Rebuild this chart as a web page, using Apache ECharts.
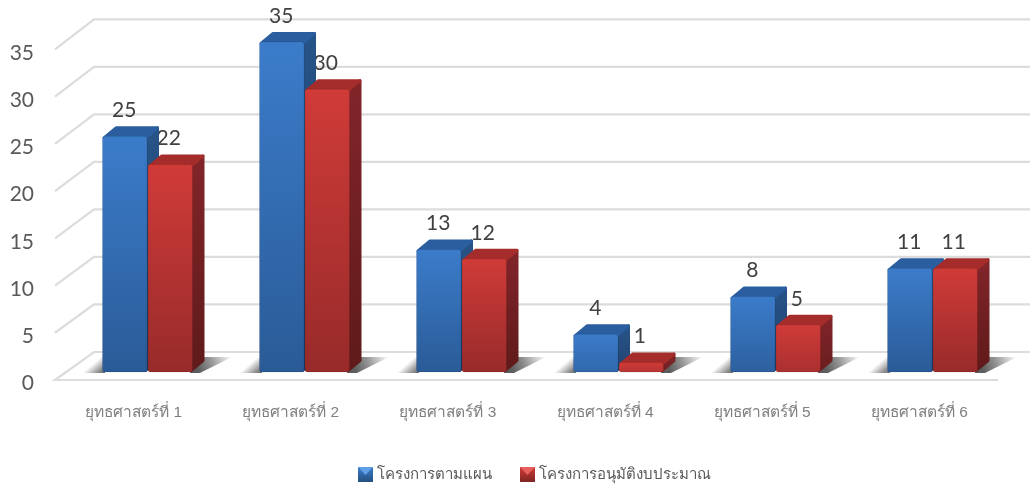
<!DOCTYPE html>
<html>
<head>
<meta charset="utf-8">
<style>
  html, body { margin: 0; padding: 0; background: #fff; }
  #main { width: 1030px; height: 488px; }
</style>
<script src="https://cdn.jsdelivr.net/npm/echarts@6/dist/echarts.min.js"></script>
</head>
<body>
<div id="main"></div>
<script>
var categories = ['ยุทธศาสตร์ที่ 1', 'ยุทธศาสตร์ที่ 2', 'ยุทธศาสตร์ที่ 3', 'ยุทธศาสตร์ที่ 4', 'ยุทธศาสตร์ที่ 5', 'ยุทธศาสตร์ที่ 6'];
var planned = [25, 35, 13, 4, 8, 11];
var approved = [22, 30, 12, 1, 5, 11];
var yTicks = [0, 5, 10, 15, 20, 25, 30, 35];
var seriesNames = ['โครงการตามแผน', 'โครงการอนุมัติงบประมาณ'];

var thaiFont = '"Liberation Sans", "DejaVu Sans", "Noto Sans", sans-serif';
var numFont = 'Lato, "Open Sans", sans-serif';

var myChart = echarts.init(document.getElementById('main'), null, { renderer: 'canvas' });

// depth of the 3d look, in pixels
var depthX = 12;
var depthY = 10;
var barRatio = 44.5 / 157;

var blue = { top: '#2b5e9f', front: ['#3b7cca', '#2a5b97'], side: ['#275488', '#1c3b64'] };
var red = { top: '#a42c2a', front: ['#d03b38', '#972b2a'], side: ['#82252a', '#5f1a19'] };

function mix(a, b, t) {
  var out = '#';
  for (var i = 1; i < 7; i += 2) {
    var x = parseInt(a.substr(i, 2), 16);
    var y = parseInt(b.substr(i, 2), 16);
    var c = Math.round(x + (y - x) * t).toString(16);
    out += c.length < 2 ? '0' + c : c;
  }
  return out;
}

function vertical(c0, c1) {
  return new echarts.graphic.LinearGradient(0, 0, 0, 1, [
    { offset: 0, color: c0 },
    { offset: 1, color: c1 }
  ]);
}

function barRenderer(colors, shift) {
  return function (params, api) {
    var val = api.value(1);
    var band = api.size([1, 0])[0];
    var w = band * barRatio;
    var topPt = api.coord([api.value(0), val]);
    var basePt = api.coord([api.value(0), 0]);
    var x0 = topPt[0] + shift * w + (shift < 0 ? -0.5 : 0.5);
    var x1 = x0 + w;
    var y0 = topPt[1];
    var y1 = basePt[1];
    // short bars do not reach the dark end of the gradient
    var f = Math.min(1, 0.4 + val / 18);
    // polygons sit 1.5px inside and get a 3px round stroke, that rounds the corners
    var r = 1.5;
    return {
      type: 'group',
      children: [
        {
          type: 'polygon',
          shape: { points: [[x1 - r, y0 + r], [x1 + depthX - r, y0 - depthY + r], [x1 + depthX - r, y1 - depthY - r], [x1 - r, y1 - r]] },
          style: { fill: vertical(colors.side[0], mix(colors.side[0], colors.side[1], f)), stroke: vertical(colors.side[0], mix(colors.side[0], colors.side[1], f)), lineWidth: 2 * r, lineJoin: 'round' }
        },
        {
          type: 'polygon',
          shape: { points: [[x0 + r, y0 + r], [x1 - r, y0 + r], [x1 + depthX - r, y0 - depthY + r], [x0 + depthX + r, y0 - depthY + r]] },
          style: { fill: colors.top, stroke: colors.top, lineWidth: 2 * r, lineJoin: 'round' }
        },
        {
          type: 'rect',
          shape: { x: x0, y: y0, width: w, height: y1 - y0, r: 2.5 },
          style: { fill: vertical(colors.front[0], mix(colors.front[0], colors.front[1], f)), stroke: 'rgba(0,0,0,0.10)', lineWidth: 1 }
        }
      ]
    };
  };
}

// floor shadow, one soft wedge each side of the pair of bars
function shadowRenderer(params, api) {
  var band = api.size([1, 0])[0];
  var w = band * barRatio;
  var c = api.coord([api.value(0), 0]);
  var left = c[0] - w;
  var right = c[0] + w;
  var y = c[1] + 1;
  var stops = [
    { offset: 0, color: 'rgba(75,75,75,0)' },
    { offset: 0.6, color: 'rgba(75,75,75,0.6)' },
    { offset: 1, color: 'rgba(75,75,75,0.9)' }
  ];
  return {
    type: 'group',
    children: [
      {
        type: 'polygon',
        shape: { points: [[left - 21, y], [left + 2, y], [left + 2, y - 16], [left - 2, y - 16]] },
        style: { fill: new echarts.graphic.LinearGradient(left - 11.5, y - 8, left - 1, y + 4, stops, true) }
      },
      {
        type: 'polygon',
        shape: { points: [[right - 2, y], [right + 8, y], [right + 40, y - 16], [right - 2, y - 16]] },
        style: { fill: new echarts.graphic.LinearGradient(right + 40, y - 16, right + 6, y - 3, stops, true) }
      }
    ]
  };
}

function labelRenderer(shift) {
  return function (params, api) {
    var w = api.size([1, 0])[0] * barRatio;
    var p = api.coord([api.value(0), api.value(1)]);
    return {
      type: 'text',
      style: {
        x: p[0] + shift * w - 1,
        y: p[1] - 26,
        text: String(api.value(1)),
        fill: '#404040',
        font: '21px ' + numFont,
        textAlign: 'center',
        textVerticalAlign: 'middle'
      }
    };
  };
}

// gridlines: front edge, then a slant up to the back wall and along it
function wallRenderer(params, api) {
  var v = api.value(1);
  var cs = params.coordSys;
  var y = api.coord([0, v])[1];
  var rise = 28 + 2 * v / 35;
  var pts = [[cs.x, y], [cs.x + 39, y - rise], [cs.x + cs.width + 39, y - rise]];
  if (v === 0) {
    pts = [[cs.x + cs.width, y], [cs.x, y]].concat(pts.slice(1));
  }
  return {
    type: 'polyline',
    shape: { points: pts },
    style: { fill: null, stroke: '#dcdcdc', lineWidth: 2.2 }
  };
}

function pairs(arr) {
  return arr.map(function (v, i) { return [i, v]; });
}

var option = {
  animation: false,
  backgroundColor: '#fff',
  grid: [
    { left: 55, width: 943, top: 49.3, height: 330.7 },
    { left: 69, width: 942, top: 42, height: 330 }
  ],
  xAxis: [
    {
      type: 'category', gridIndex: 0, data: categories,
      axisLine: { show: false }, axisTick: { show: false },
      axisLabel: { margin: 25, fontSize: 15.5, color: '#7f7f7f', fontFamily: thaiFont }
    },
    { type: 'category', gridIndex: 1, data: categories, show: false }
  ],
  yAxis: [
    {
      type: 'value', gridIndex: 0, min: 0, max: 35, interval: 5,
      axisLine: { show: false }, axisTick: { show: false }, splitLine: { show: false },
      // top aligned with a small line box puts the digits a little under the gridline end
      axisLabel: { margin: 21, fontSize: 21, color: '#595959', fontFamily: numFont, verticalAlign: 'top', lineHeight: 7 }
    },
    { type: 'value', gridIndex: 1, min: 0, max: 35, interval: 5, show: false, splitLine: { show: false } }
  ],
  legend: {
    left: 353, top: 462, itemWidth: 15, itemHeight: 15, itemGap: 28,
    icon: 'rect',
    data: seriesNames,
    textStyle: { fontSize: 15, color: '#595959', fontFamily: thaiFont, padding: [0, 0, 0, -1] }
  },
  // lighter bevel on the legend keys
  graphic: [
    { type: 'polygon', z: 100, silent: true, shape: { points: [[358, 467], [373, 467], [365.5, 475]] }, style: { fill: '#5f9fe4' } },
    { type: 'polygon', z: 100, silent: true, shape: { points: [[520, 467], [535, 467], [527.5, 475]] }, style: { fill: '#e8605b' } }
  ],
  series: [
    {
      name: 'walls', type: 'custom', xAxisIndex: 0, yAxisIndex: 0, z: 1, clip: false, silent: true,
      data: yTicks.map(function (t) { return [0, t]; }),
      encode: { x: 0, y: 1 }, renderItem: wallRenderer
    },
    {
      name: 'shadow', type: 'custom', xAxisIndex: 1, yAxisIndex: 1, z: 2, clip: false, silent: true,
      data: categories.map(function (c, i) { return [i, 0]; }),
      encode: { x: 0, y: 1 }, renderItem: shadowRenderer
    },
    {
      name: 'labels1', type: 'custom', xAxisIndex: 1, yAxisIndex: 1, z: 3, clip: false, silent: true,
      data: pairs(planned), encode: { x: 0, y: 1 }, renderItem: labelRenderer(-0.5)
    },
    {
      name: 'labels2', type: 'custom', xAxisIndex: 1, yAxisIndex: 1, z: 3, clip: false, silent: true,
      data: pairs(approved), encode: { x: 0, y: 1 }, renderItem: labelRenderer(0.5)
    },
    {
      name: seriesNames[0], type: 'custom', xAxisIndex: 1, yAxisIndex: 1, z: 4, clip: false,
      itemStyle: { color: vertical('#3b7cca', '#24507f') },
      data: pairs(planned), encode: { x: 0, y: 1 }, renderItem: barRenderer(blue, -1)
    },
    {
      name: seriesNames[1], type: 'custom', xAxisIndex: 1, yAxisIndex: 1, z: 5, clip: false,
      itemStyle: { color: vertical('#d03b38', '#7f2523') },
      data: pairs(approved), encode: { x: 0, y: 1 }, renderItem: barRenderer(red, 0)
    }
  ]
};

myChart.setOption(option);
</script>
</body>
</html>
